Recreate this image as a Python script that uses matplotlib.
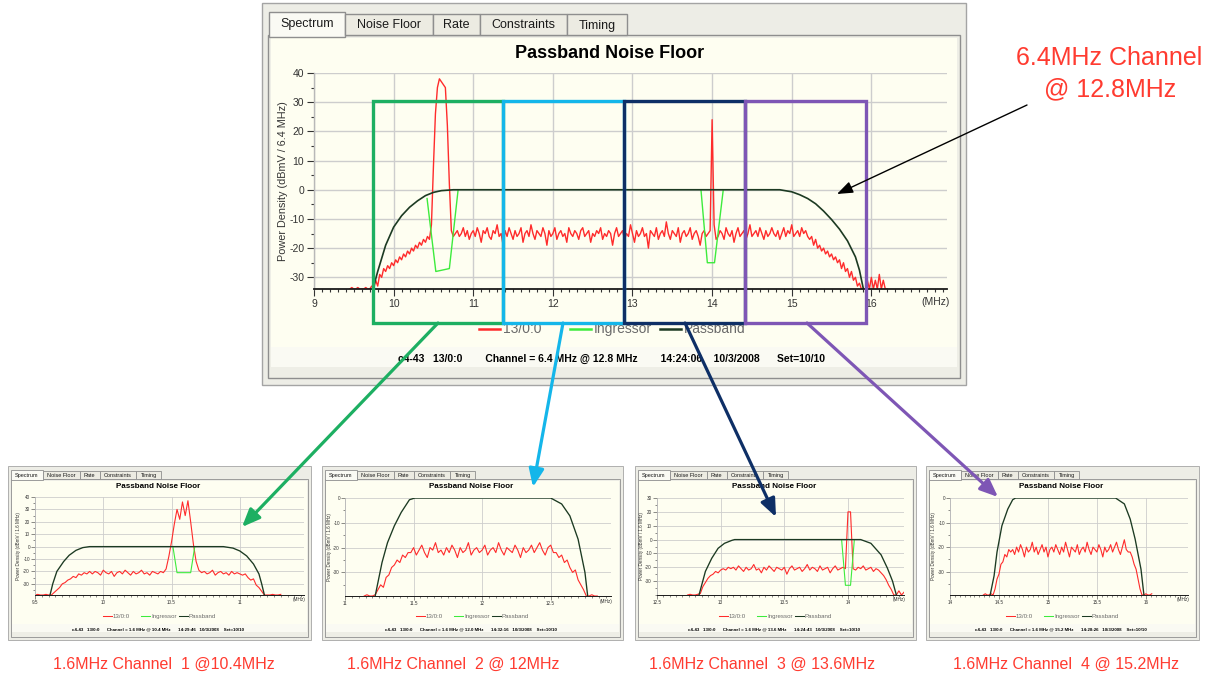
import numpy as np
import matplotlib.pyplot as plt
from matplotlib.patches import Rectangle
from matplotlib.ticker import FixedLocator, MultipleLocator

plt.rcParams['font.family'] = ['Liberation Sans', 'DejaVu Sans']

W, H = 1212, 676

RED = '#FF2B2B'
GREEN = '#3DEB3D'
PASSBAND = '#1C3A22'
NOTE = '#FF3B30'

# ---------------- 6.4 MHz channel @ 12.8 MHz (25 kHz bins from 9.45 MHz) ----------------
MAIN_F0, MAIN_STEP = 9.45, 0.025
main_head = [-34, -33.5, -34, -34, -33.5, -34, -34, -34, -33.5, -34, -34, -33]
main_rise = [-34, -31, -33, -29, -30, -27, -28, -26, -27, -25,
             -26, -24, -25, -23, -24, -22, -23, -21, -22, -20,
             -21, -19, -20, -18, -19, -17, -18, -16, -17]
main_peak = [-12, 8, 26, 35, 38, 37, 36, 35, 22, 2, -14, -16]
main_floor_a = [-15, -14, -16, -15, -13, -16, -14, -17, -15, -14,
                -16, -13, -15, -18, -14, -15, -13, -16, -17, -14,
                -15, -12, -16, -15, -19, -14, -16, -13, -15, -17,
                -14, -16, -15, -13, -18, -15, -14, -16, -12, -15,
                -17, -14, -15, -16, -13, -15, -19, -14, -16, -15,
                -13, -17, -15, -14, -16, -15, -18, -13, -15, -16,
                -14, -15, -17, -14, -13, -16, -15, -14, -18, -15,
                -16, -14, -15, -13, -17, -15, -16, -14, -15, -19,
                -15, -13, -16, -15, -14, -17, -15, -16, -12, -15,
                -18, -14, -16, -15, -13, -16, -15, -20, -14, -15,
                -16, -13, -17, -15, -14, -16, -11, -15, -17, -14,
                -15, -16, -13, -18, -15, -14, -16, -15, -13, -17,
                -15, -14, -16, -19, -15, -14, -16, -15]
main_spike = [-14, 24, -12, -17]
main_floor_b = [-16, -14, -15, -17, -13, -15, -16, -14, -18, -15,
                -13, -16, -15, -14, -17, -15, -12, -16, -15, -14,
                -16, -13, -15, -17, -14, -16, -15, -13, -15, -16,
                -14, -17, -15, -13, -16, -14, -15, -12, -16, -15,
                -14, -16, -13, -15, -14, -16]
main_rolloff = [-17, -16, -19, -17, -20, -19, -21, -20, -22, -21,
                -23, -22, -24, -23, -25, -24, -27, -25, -28, -27,
                -30, -28, -31, -30, -33, -32, -34, -34]
main_tail = [-34, -31, -34, -30, -34, -31, -34, -29, -34, -31, -34, -34]
main_red = (main_head + main_rise + main_peak + main_floor_a + main_spike
            + main_floor_b + main_rolloff + main_tail)

main_ingress_f = [[10.42, 10.53, 10.70, 10.81], [13.86, 13.94, 14.03, 14.14]]
main_ingress_db = [[-3, -28, -27, 0], [0, -25, -25, 0]]

main_pass_f = [9.74, 9.8, 9.9, 10.0, 10.1, 10.2, 10.3, 10.4, 10.5, 10.6, 10.75,
               14.85, 15.0, 15.1, 15.2, 15.3, 15.4, 15.5, 15.6, 15.7, 15.8, 15.85, 15.9]
main_pass_db = [-34, -28, -19, -12.8, -8.9, -6, -3.8, -2, -0.9, -0.3, 0,
                0, -0.7, -1.7, -3, -4.8, -7.3, -10.2, -13.5, -17.5, -23, -27.5, -34]

# ---------------- 1.6 MHz channels (20 kHz bins) ----------------
SUB_STEP = 0.02

ch1_f0 = 9.50
ch1_red = ([-39, -38.5, -39, -39, -38.5, -39, -39]
           + [-37, -35, -33, -30, -29, -27, -26, -24, -25, -22, -23, -21, -22, -20]
           + [-22, -20, -21, -23, -19, -21, -22, -20, -24, -21,
              -20, -22, -19, -21, -23, -20, -22, -21, -19, -22,
              -21, -23, -20, -21, -22, -20, -21]
           + [-18, -8, 4, 18, 30, 22, 36, 25, 37, 20, 2, -12, -19, -21]
           + [-20, -22, -21, -19, -23, -21, -20, -22, -21, -23, -20, -22, -21, -22]
           + [-23, -22, -25, -27, -26, -31, -33, -36, -39, -39]
           + [-39, -38.5, -39, -39, -38.5])
ch1_pass_f = [9.61, 9.63, 9.66, 9.71, 9.75, 9.8, 9.85, 9.9,
              10.88, 10.95, 11.0, 11.05, 11.1, 11.14, 11.16, 11.18]
ch1_pass_db = [-39, -30, -20, -12, -7, -3, -0.8, 0,
               0, -1.2, -3.5, -7.5, -14, -22, -30, -39]
ch1_ingress_f = [[10.51, 10.54, 10.64, 10.67]]
ch1_ingress_db = [[0, -21, -21, 0]]

ch2_f0 = 11.14
ch2_red = ([-39.5, -39, -39.5, -39.5, -39]
           + [-37, -35, -36, -32, -31, -28, -27, -25, -26, -23, -24, -22]
           + [-22, -20, -23, -21, -19, -22, -24, -20, -21, -18,
              -22, -21, -23, -20, -22, -19, -21, -24, -20, -22,
              -21, -18, -23, -21, -20, -22, -21, -19, -23, -21,
              -20, -22, -18, -21, -23, -20, -21, -22, -19, -21,
              -24, -20, -22, -21, -19, -22, -20, -18, -21, -23,
              -20, -19, -22]
           + [-22, -24, -23, -26, -25, -28, -30, -29, -33, -35, -37, -39.5]
           + [-39.5, -39, -39.5, -39.5])
ch2_pass_f = [11.22, 11.27, 11.31, 11.36, 11.41, 11.47, 11.51,
              12.5, 12.58, 12.64, 12.7, 12.75, 12.77]
ch2_pass_db = [-39.5, -26, -18, -11.2, -5.8, -0.7, 0,
               0, -2.4, -7.2, -16.6, -30, -39.5]

ch3_f0 = 12.74
ch3_red = ([-40, -39.5, -40, -40, -39.5]
           + [-39, -34, -31, -28, -26, -25, -23, -24, -22, -21, -22, -20, -21]
           + [-20, -22, -19, -21, -23, -20, -22, -21, -18, -22,
              -21, -24, -20, -22, -19, -21, -23, -20, -21, -22,
              -20, -25, -21, -19, -22, -21, -20, -23, -21, -18,
              -22, -20, -21, -23, -19, -22, -21, -20, -24, -21,
              -19, -22, -21, -20]
           + [-21, 20, 20, -21]
           + [-22, -20, -21, -19, -22, -21, -20, -23, -21]
           + [-22, -24, -26, -29, -33, -36, -40]
           + [-40, -37, -40, -38])
ch3_pass_f = [12.83, 12.88, 12.93, 12.98, 13.03, 13.09, 13.11,
              14.1, 14.18, 14.26, 14.31, 14.35, 14.38]
ch3_pass_db = [-40, -23, -13.5, -6.3, -2.7, -0.5, 0,
               0, -2.7, -11, -20.7, -30, -40]
ch3_ingress_f = [[13.95, 13.98, 14.02, 14.05]]
ch3_ingress_db = [[0, -33, -33, 0]]

ch4_f0 = 14.34
ch4_red = ([-39.5, -39, -39.5, -39.5, -39, -39.5]
           + [-37, -33, -31, -27, -26, -23, -24, -21, -22]
           + [-21, -23, -20, -22, -19, -21, -24, -20, -22, -21,
              -18, -22, -20, -23, -21, -19, -22, -20, -24, -21,
              -20, -22, -19, -21, -23, -20, -22, -18, -21, -24,
              -20, -21, -22, -19, -23, -21, -20, -22, -18, -21,
              -23, -20, -21, -22, -19, -21, -24, -20, -22, -21,
              -19, -22, -20, -18, -21, -23, -20, -17, -21, -22]
           + [-22, -24, -27, -29, -33, -37, -39.5]
           + [-39.5, -39, -39.5, -39.5, -39])
ch4_pass_f = [14.41, 14.45, 14.48, 14.53, 14.59, 14.64, 14.67,
              15.69, 15.78, 15.84, 15.89, 15.95, 15.98]
ch4_pass_db = [-39.5, -31.7, -22, -11.3, -4.5, -0.7, 0,
               0, -2.4, -8.6, -16.7, -29, -39.5]

TAB_NAMES = ['Spectrum', 'Noise Floor', 'Rate', 'Constraints', 'Timing']
TAB_WIDTHS = [76, 88, 47, 87, 60]
LEGEND_NAMES = ['13/0:0', 'Ingressor', 'Passband']

fig = plt.figure(figsize=(W / 100, H / 100), dpi=100)
fig.patch.set_facecolor('white')

# pixel-space layer for the window chrome
bg = fig.add_axes([0, 0, 1, 1])
bg.set_xlim(0, W)
bg.set_ylim(H, 0)
bg.axis('off')


def add_px_axes(x0, y0, x1, y1, **kw):
    return fig.add_axes([x0 / W, 1 - y1 / H, (x1 - x0) / W, (y1 - y0) / H], **kw)


def draw_window(x0, y0, x1, y1, s, footer):
    small = s != 1
    lw = 0.6 if small else 1.0
    bg.add_patch(Rectangle((x0, y0), x1 - x0, y1 - y0, fc='#EDEDE6', ec='#A4A4A4', lw=lw))
    page_top = y0 + 32 * s
    bg.add_patch(Rectangle((x0 + 6 * s, page_top), x1 - x0 - 12 * s, y1 - 7 * s - page_top,
                           fc='#EEEEE6', ec='#8E8E8E', lw=lw))
    bg.add_patch(Rectangle((x0 + 9 * s, page_top + 3 * s), x1 - x0 - 18 * s,
                           y1 - 38 * s - page_top - 3 * s, fc='#FEFEF1', ec='none'))
    bg.add_patch(Rectangle((x0 + 9 * s, y1 - 38 * s), x1 - x0 - 18 * s, 20 * s,
                           fc='#FAFAF3', ec='none'))
    tx = x0 + 7 * s
    for i, (name, w) in enumerate(zip(TAB_NAMES, TAB_WIDTHS)):
        w = w * s
        top = y0 + (9 if i == 0 else 11) * s
        bottom = page_top + (1.5 * s if i == 0 else 0)
        bg.add_patch(Rectangle((tx, top), w, bottom - top,
                               fc='#FAFAF4' if i == 0 else '#ECEBE2', ec='#8E8E8E', lw=lw, zorder=3))
        bg.text(tx + w / 2, (top + page_top) / 2 + s, name, fontsize=4.0 if small else 9,
                ha='center', va='center', color='#1A1A1A', zorder=4)
        tx += w
    cx = (x0 + x1) / 2
    bg.text(cx - 4 * s, y0 + 50 * s, 'Passband Noise Floor', fontsize=5.8 if small else 13,
            fontweight='bold', ha='center', va='center')
    ly = y1 - 56 * s
    for off, col, lab in zip((-135, -44, 46), (RED, GREEN, PASSBAND), LEGEND_NAMES):
        xs = cx + off * s
        bg.plot([xs, xs + 21 * s], [ly, ly], color=col, lw=1.8 * s)
        bg.text(xs + 24 * s, ly, lab, fontsize=4.4 if small else 10, color='#6A6A6A',
                ha='left', va='center')
    bg.text(cx - 3 * s, y1 - 26 * s, footer, fontsize=3.2 if small else 7.5,
            fontweight='bold', ha='center', va='center')


def spectrum_axes(box, xlim, ylim, xmajor, ymajor, s, ylabel):
    small = s != 1
    x0, y0, x1, y1 = box
    ax = add_px_axes(*box)
    ax.set_xlim(*xlim)
    ax.set_ylim(*ylim)
    ax.patch.set_alpha(0)
    ax.xaxis.set_major_locator(FixedLocator(xmajor))
    ax.xaxis.set_minor_locator(MultipleLocator(0.05 if small else 0.1))
    ax.yaxis.set_major_locator(FixedLocator(ymajor))
    ax.yaxis.set_minor_locator(MultipleLocator(5))
    ax.xaxis.set_major_formatter(lambda v, p: f'{v:g}')
    ax.yaxis.set_major_formatter(lambda v, p: f'{v:g}')
    ax.grid(True, which='major', color='#CDCDCD', lw=0.6 if small else 1.0)
    ax.set_axisbelow(True)
    for side in ('top', 'right'):
        ax.spines[side].set_visible(False)
    ax.spines['left'].set_color('#B8B8B8')
    ax.spines['left'].set_linewidth(0.6 if small else 1.0)
    ax.spines['bottom'].set_color('#1A1A1A')
    ax.spines['bottom'].set_linewidth(0.7 if small else 1.3)
    ax.tick_params(which='both', direction='out', colors='#333333',
                   labelsize=3.3 if small else 7.5, pad=1 if small else 2,
                   width=0.4 if small else 0.8)
    ax.tick_params(which='major', length=4 * s + 1)
    ax.tick_params(which='minor', length=2 * s + 0.5)
    bg.text(x0 - (16 if small else 31), (y0 + y1) / 2, 'Power Density ' + ylabel,
            rotation=90, fontsize=3.3 if small else 7.8, color='#333333',
            ha='center', va='center')
    bg.text(x1 - (5 if small else 11), y1 + (5 if small else 13), '(MHz)',
            fontsize=3.4 if small else 7.5, color='#333333', ha='center', va='center')
    return ax


def draw_traces(ax, freqs, red, pass_f, pass_db, ingress_f, ingress_db, lw):
    ax.plot(freqs, red, color=RED, lw=lw)
    for fx, dbx in zip(ingress_f, ingress_db):
        ax.plot(fx, dbx, color=GREEN, lw=lw)
    ax.plot(pass_f, pass_db, color=PASSBAND, lw=lw * 1.2)


# ---- main 6.4 MHz window ----
draw_window(262, 3, 966, 385, 1.0,
            'c4-43   13/0:0        Channel = 6.4 MHz @ 12.8 MHz        14:24:06    10/3/2008      Set=10/10')
ax_main = spectrum_axes((314, 73, 947, 289), (9, 16.95), (-34, 40),
                        range(9, 17), range(-30, 41, 10), 1.0, '(dBmV / 6.4 MHz)')
main_freqs = MAIN_F0 + MAIN_STEP * np.arange(len(main_red))
draw_traces(ax_main, main_freqs, main_red, main_pass_f, main_pass_db,
            main_ingress_f, main_ingress_db, 1.0)

# ---- four 1.6 MHz windows ----
sub_panels = [
    dict(frame=(8, 311), box=(35, 497, 304, 595), xlim=(9.5, 11.47), ylim=(-39, 40),
         xt=[9.5, 10, 10.5, 11], yt=range(-30, 41, 10), f0=ch1_f0, red=ch1_red,
         pf=ch1_pass_f, pdb=ch1_pass_db, inf=ch1_ingress_f, indb=ch1_ingress_db,
         centre='10.4', clock='14:29:46'),
    dict(frame=(322, 623), box=(345, 498, 611, 596), xlim=(11, 12.94), ylim=(-39.5, 0),
         xt=[11, 11.5, 12, 12.5], yt=range(-30, 1, 10), f0=ch2_f0, red=ch2_red,
         pf=ch2_pass_f, pdb=ch2_pass_db, inf=[], indb=[],
         centre='12.0', clock='14:32:16'),
    dict(frame=(635, 916), box=(657, 498, 904, 595), xlim=(12.5, 14.44), ylim=(-40, 30),
         xt=[12.5, 13, 13.5, 14], yt=range(-30, 31, 10), f0=ch3_f0, red=ch3_red,
         pf=ch3_pass_f, pdb=ch3_pass_db, inf=ch3_ingress_f, indb=ch3_ingress_db,
         centre='13.6', clock='14:24:43'),
    dict(frame=(926, 1199), box=(950, 498, 1188, 595), xlim=(14, 16.43), ylim=(-39.5, 0),
         xt=[14, 14.5, 15, 15.5, 16], yt=range(-30, 1, 10), f0=ch4_f0, red=ch4_red,
         pf=ch4_pass_f, pdb=ch4_pass_db, inf=[], indb=[],
         centre='15.2', clock='14:28:26'),
]
for p in sub_panels:
    fx0, fx1 = p['frame']
    draw_window(fx0, 466, fx1, 640, 0.42,
                f"c4-43   13/0:0      Channel = 1.6 MHz @ {p['centre']} MHz      "
                f"{p['clock']}   10/3/2008    Set=10/10")
    ax = spectrum_axes(p['box'], p['xlim'], p['ylim'], p['xt'], p['yt'], 0.42,
                       '(dBmV / 1.6 MHz)')
    freqs = p['f0'] + SUB_STEP * np.arange(len(p['red']))
    draw_traces(ax, freqs, p['red'], p['pf'], p['pdb'], p['inf'], p['indb'], 0.8)

# ---- call-outs drawn over everything ----
top = fig.add_axes([0, 0, 1, 1], zorder=10)
top.set_xlim(0, W)
top.set_ylim(H, 0)
top.axis('off')

boxes = [(373, 503, '#1DAF62'), (503, 624, '#14B6EA'), (624, 745, '#0E2F66'), (745, 866, '#7E56B5')]
for bx0, bx1, col in boxes:
    top.add_patch(Rectangle((bx0, 101), bx1 - bx0, 222, fill=False, ec=col, lw=2.4))

links = [((438, 323), (242, 527), '#1DAF62'),
         ((563, 323), (533, 487), '#14B6EA'),
         ((685, 323), (776, 517), '#0E2F66'),
         ((807, 323), (998, 497), '#7E56B5')]
for start, end, col in links:
    top.annotate('', xy=end, xytext=start,
                 arrowprops=dict(arrowstyle='-|>,head_length=0.6,head_width=0.25',
                                 color=col, lw=2.3, mutation_scale=18, shrinkA=0, shrinkB=0))

top.annotate('', xy=(837, 194), xytext=(1027, 105),
             arrowprops=dict(arrowstyle='-|>,head_length=0.8,head_width=0.3',
                             color='black', lw=1.0, mutation_scale=12, shrinkA=0, shrinkB=0))
top.text(1109, 58, '6.4MHz Channel', fontsize=18, color=NOTE, ha='center', va='center')
top.text(1110, 89, '@ 12.8MHz', fontsize=18, color=NOTE, ha='center', va='center')

captions = ['1.6MHz Channel  1 @10.4MHz', '1.6MHz Channel  2 @ 12MHz',
            '1.6MHz Channel  3 @ 13.6MHz', '1.6MHz Channel  4 @ 15.2MHz']
for cx, text in zip((164, 453, 762, 1066), captions):
    top.text(cx, 664, text, fontsize=11.5, color=NOTE, ha='center', va='center')

fig.savefig('out.png', dpi=100)
